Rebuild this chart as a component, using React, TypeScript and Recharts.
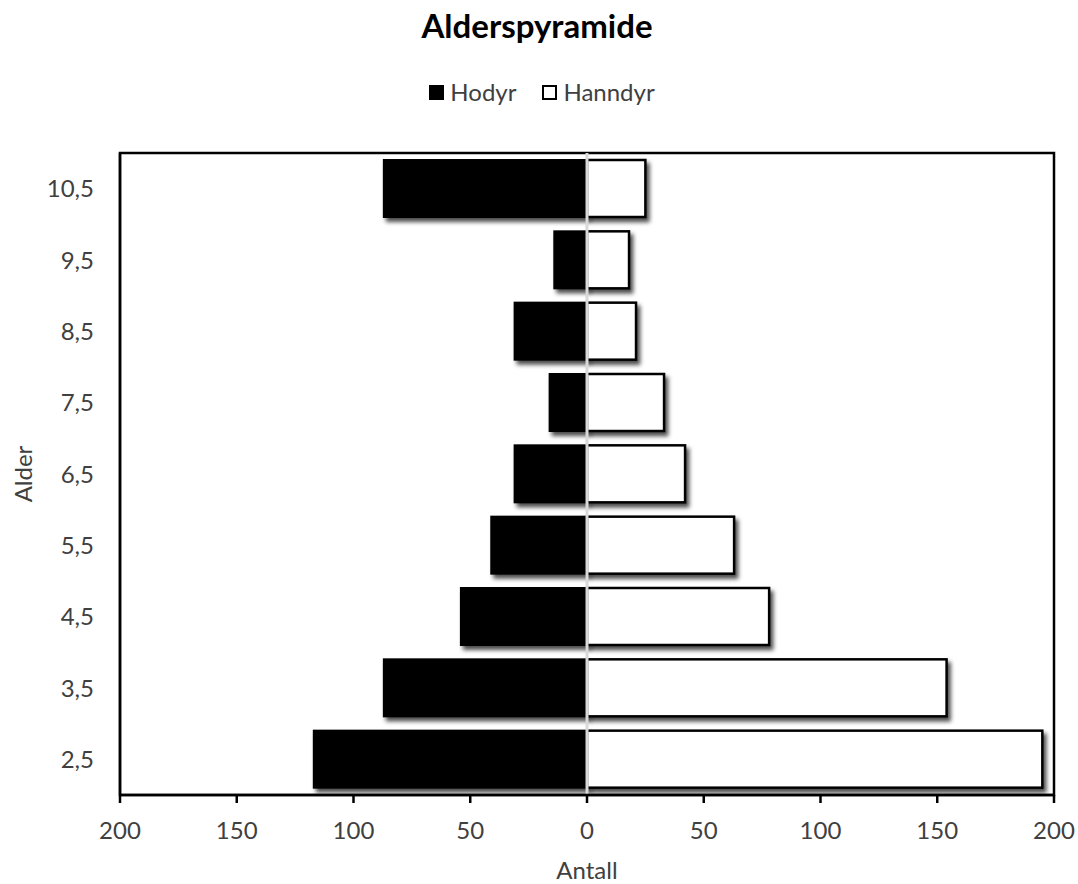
import { BarChart, Bar, XAxis, YAxis, Legend, ReferenceLine, ReferenceArea } from 'recharts';

const ages = ['10,5', '9,5', '8,5', '7,5', '6,5', '5,5', '4,5', '3,5', '2,5'];
const hodyr = [87, 14, 31, 16, 31, 41, 54, 87, 117];
const hanndyr = [25, 18, 21, 33, 42, 63, 78, 154, 195];
const xTicks = [-200, -150, -100, -50, 0, 50, 100, 150, 200];
const seriesOrder = ['Hodyr', 'Hanndyr'];

// hodyr goes to the left, so store it negative
const data = ages.map((age, i) => ({ age, hodyr: -hodyr[i], hanndyr: hanndyr[i] }));

const FONT = 'Lato, "Open Sans", sans-serif';
const TEXT = '#404040';

const ShadowRect = (props: any) => {
  let { x, y, width, height } = props;
  if (width < 0) { x += width; width = -width; }
  if (height < 0) { y += height; height = -height; }
  return (
    <rect
      x={x}
      y={y}
      width={width}
      height={height}
      fill={props.fill}
      stroke={props.stroke}
      strokeWidth={props.strokeWidth}
      filter="url(#barShadow)"
    />
  );
};

const renderLegend = ({ payload }: any) => {
  const items = [...(payload || [])].sort(
    (a: any, b: any) => seriesOrder.indexOf(a.value) - seriesOrder.indexOf(b.value)
  );
  return (
    <div
      style={{
        display: 'flex',
        justifyContent: 'center',
        gap: 26,
        paddingLeft: 6,
        fontFamily: FONT,
        fontSize: 24,
        lineHeight: '30px',
        color: TEXT,
      }}
    >
      {items.map((entry: any) => (
        <span key={entry.value} style={{ display: 'flex', alignItems: 'center' }}>
          <span
            style={{
              display: 'inline-block',
              width: 15,
              height: 15,
              boxSizing: 'border-box',
              background: entry.color,
              border: '2px solid #000',
              marginRight: 6,
            }}
          />
          {entry.value}
        </span>
      ))}
    </div>
  );
};

const AlderLabel = ({ viewBox }: any) => {
  const cx = viewBox.x + 22;
  const cy = viewBox.y + viewBox.height / 2;
  return (
    <text
      x={cx}
      y={cy}
      transform={`rotate(-90 ${cx} ${cy})`}
      textAnchor="middle"
      dominantBaseline="central"
      fontFamily={FONT}
      fontSize={24}
      fill={TEXT}
    >
      Alder
    </text>
  );
};

export default function App() {
  return (
    <div style={{ position: 'absolute', left: 0, top: 0, width: 1078, height: 884, background: '#fff' }}>
      <div
        style={{
          position: 'absolute',
          top: 5,
          left: 0,
          width: 1074,
          textAlign: 'center',
          fontFamily: FONT,
          fontWeight: 700,
          fontSize: 33,
          lineHeight: '40px',
          color: '#000',
        }}
      >
        Alderspyramide
      </div>
      <BarChart
        width={1078}
        height={884}
        data={data}
        layout="vertical"
        stackOffset="sign"
        barCategoryGap={7}
        margin={{ top: 153, right: 24, bottom: 0, left: 0 }}
      >
        <defs>
          <filter id="barShadow" x="-10%" y="-20%" width="130%" height="160%">
            <feDropShadow dx="3" dy="4" stdDeviation="2.2" floodColor="#000" floodOpacity="0.7" />
          </filter>
        </defs>
        <ReferenceArea x1={-200} x2={200} fill="none" stroke="#000" strokeWidth={2.5} />
        <XAxis
          type="number"
          domain={[-200, 200]}
          ticks={xTicks}
          tickFormatter={(v: number) => String(Math.abs(v))}
          height={89}
          tickSize={8}
          tickMargin={19}
          axisLine={{ stroke: '#000', strokeWidth: 2.5 }}
          tickLine={{ stroke: '#000', strokeWidth: 2.5 }}
          tick={{ fill: TEXT, fontSize: 24, fontFamily: FONT }}
          label={{ value: 'Antall', position: 'insideBottom', offset: 5, fill: TEXT, fontSize: 24, fontFamily: FONT }}
        />
        <YAxis
          type="category"
          dataKey="age"
          width={120}
          tickSize={0}
          tickMargin={26}
          axisLine={{ stroke: '#000', strokeWidth: 2.5 }}
          tickLine={false}
          tick={{ fill: TEXT, fontSize: 24, fontFamily: FONT }}
          label={{ content: AlderLabel }}
        />
        <Legend
          layout="horizontal"
          verticalAlign="middle"
          align="center"
          wrapperStyle={{ top: 77, left: 0, width: 1078 }}
          content={renderLegend}
        />
        <Bar
          dataKey="hodyr"
          name="Hodyr"
          stackId="a"
          fill="#000"
          stroke="#000"
          strokeWidth={2}
          shape={ShadowRect}
          isAnimationActive={false}
        />
        <Bar
          dataKey="hanndyr"
          name="Hanndyr"
          stackId="a"
          fill="#fff"
          stroke="#000"
          strokeWidth={2.5}
          shape={ShadowRect}
          isAnimationActive={false}
        />
        <ReferenceLine x={0} stroke="#d9d9d9" strokeWidth={3} />
      </BarChart>
    </div>
  );
}
